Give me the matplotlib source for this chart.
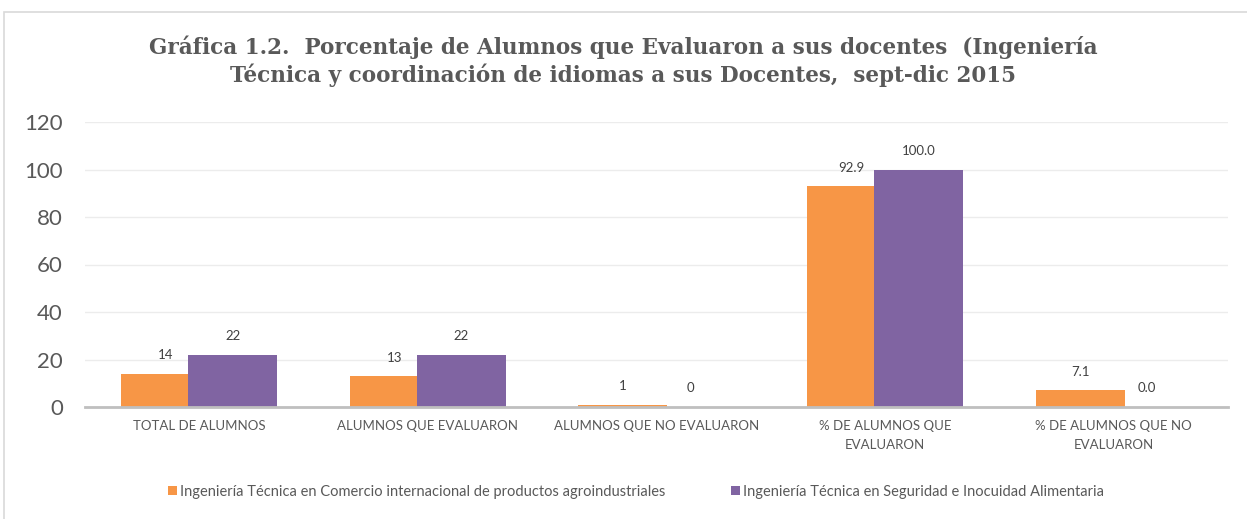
import matplotlib
matplotlib.use("Agg")
import matplotlib.pyplot as plt
import numpy as np
from matplotlib.patches import Rectangle

categories = ["TOTAL DE ALUMNOS", "ALUMNOS QUE EVALUARON", "ALUMNOS QUE NO EVALUARON",
              "% DE ALUMNOS QUE\nEVALUARON", "% DE ALUMNOS QUE NO\nEVALUARON"]
series_names = ["Ingeniería Técnica en Comercio internacional de productos agroindustriales",
                "Ingeniería Técnica en Seguridad e Inocuidad Alimentaria"]
values_a = [14, 13, 1, 92.9, 7.1]
values_b = [22, 22, 0, 100.0, 0.0]
labels_a = ["14", "13", "1", "92.9", "7.1"]
labels_b = ["22", "22", "0", "100.0", "0.0"]
yticks = [0, 20, 40, 60, 80, 100, 120]

c_a = "#F79646"
c_b = "#8064A2"
grey = "#595959"
FONT = "Lato"

W, H = 1247, 519
fig = plt.figure(figsize=(W/100, H/100), dpi=100)
fig.patch.set_facecolor("white")

# outer chart frame
fig.add_artist(Rectangle((4/W, -0.1), 1.2, (H-12)/H + 0.1, transform=fig.transFigure,
                         fill=False, edgecolor="#d9d9d9", lw=1.2))

ax = fig.add_axes([85/W, (H-407)/H, (1228-85)/W, (407-122)/H])
x = np.arange(len(categories))
bw = 0.39
off = 0.147
ax.bar(x - off, values_a, bw, color=c_a, zorder=2, label=series_names[0])
ax.bar(x + off, values_b, bw, color=c_b, zorder=3, label=series_names[1])

for xi, v, t in zip(x, values_a, labels_a):
    ax.annotate(t, (xi - off, v), xytext=(0, 9), textcoords="offset points",
                ha="center", va="bottom", fontsize=9.5, color="#404040", family=FONT)
for xi, v, t in zip(x, values_b, labels_b):
    ax.annotate(t, (xi + off, v), xytext=(0, 9), textcoords="offset points",
                ha="center", va="bottom", fontsize=9.5, color="#404040", family=FONT)

ax.set_xlim(-0.5, len(categories) - 0.5)
ax.set_ylim(0, 120)
ax.set_yticks(yticks)
ax.set_yticklabels([str(v) for v in yticks], fontsize=16, color=grey, family=FONT)
ax.set_xticks(x)
ax.set_xticklabels(categories, fontsize=9.5, color=grey, family=FONT, linespacing=1.75)
ax.tick_params(axis="both", length=0)
ax.tick_params(axis="y", pad=16)
ax.tick_params(axis="x", pad=9)
ax.grid(axis="y", color="#ececec", lw=1, zorder=0)
for s in ["top", "right", "left"]:
    ax.spines[s].set_visible(False)
ax.spines["bottom"].set_color("#bfbfbf")
ax.spines["bottom"].set_linewidth(2)
ax.spines["bottom"].set_zorder(4)

fig.text(0.5, (H-47)/H, "Gráfica 1.2.  Porcentaje de Alumnos que Evaluaron a sus docentes  (Ingeniería",
         ha="center", va="center", fontsize=15.5, fontweight="bold", color=grey, family="DejaVu Serif")
fig.text(0.5, (H-75)/H, "Técnica y coordinación de idiomas a sus Docentes,  sept-dic 2015",
         ha="center", va="center", fontsize=15.5, fontweight="bold", color=grey, family="DejaVu Serif")

leg = fig.legend(loc="center", bbox_to_anchor=(636/W, (H-492)/H), ncol=2, frameon=False,
                 prop={"family": FONT, "size": 10.5}, handlelength=0.6, handleheight=0.6,
                 handletextpad=0.2, columnspacing=4.5)
for t in leg.get_texts():
    t.set_color(grey)

fig.savefig("out.png", dpi=100)
